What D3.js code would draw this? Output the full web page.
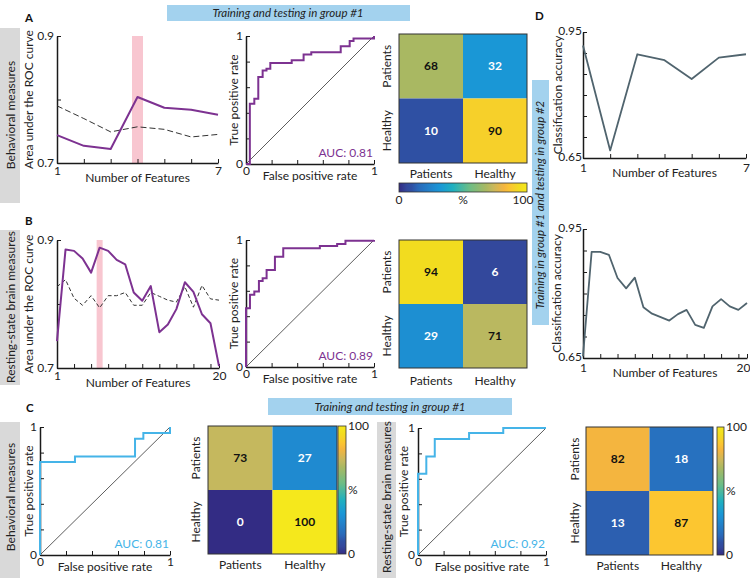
<!DOCTYPE html>
<html><head><meta charset="utf-8">
<script src="https://cdn.jsdelivr.net/npm/d3@7"></script>
<style>
body{margin:0;background:#fff;}
svg{display:block;}
</style></head><body>
<svg id="c" width="750" height="578"></svg>
<script>
// ---------------- DATA ----------------
const classes = ["Patients", "Healthy"];

const featuresBehav = [1, 2, 3, 4, 5, 6, 7];
const featuresBrain = [1, 2, 3, 4, 5, 6, 7, 8, 9, 10, 11, 12, 13, 14, 15, 16, 17, 18, 19, 20];

// Panel A: AUC vs number of features (behavioral), solid = real, dashed = chance/permuted
const aucBehav = [0.744, 0.727, 0.722, 0.804, 0.787, 0.784, 0.776];
const aucBehavNull = [0.790, 0.770, 0.749, 0.757, 0.753, 0.741, 0.745];
const bestBehav = 4;

// Panel B: AUC vs number of features (resting-state brain)
const aucBrain = [0.742, 0.885, 0.883, 0.871, 0.849, 0.888, 0.883, 0.869, 0.862, 0.818,
                  0.805, 0.828, 0.756, 0.768, 0.792, 0.834, 0.819, 0.784, 0.770, 0.703];
const aucBrainNull = [0.827, 0.838, 0.809, 0.798, 0.813, 0.794, 0.813, 0.813, 0.818, 0.798,
                      0.798, 0.818, 0.812, 0.806, 0.803, 0.827, 0.795, 0.829, 0.808, 0.806];
const bestBrain = 6;

// ROC curves (fpr, tpr) vertices, drawn as step-after
const rocBehavG1Fpr = [0, 0.03, 0.065, 0.096, 0.13, 0.16, 0.19, 0.357, 0.45, 0.51, 0.74, 0.81, 0.84, 1];
const rocBehavG1Tpr = [0, 0.47, 0.51, 0.68, 0.73, 0.745, 0.79, 0.81, 0.855, 0.873, 0.92, 0.96, 0.98, 1];
const rocBrainG1Fpr = [0, 0, 0.031, 0.065, 0.101, 0.13, 0.161, 0.226, 0.291, 0.577, 0.712, 0.777, 1];
const rocBrainG1Tpr = [0, 0.463, 0.568, 0.594, 0.678, 0.699, 0.764, 0.869, 0.935, 0.953, 0.969, 0.995, 1];
const rocBehavG2Fpr = [0, 0, 0.269, 0.731, 0.795, 1];
const rocBehavG2Tpr = [0, 0.726, 0.770, 0.909, 0.953, 1];
const rocBrainG2Fpr = [0, 0, 0.065, 0.131, 0.399, 0.666, 1];
const rocBrainG2Tpr = [0, 0.639, 0.776, 0.913, 0.961, 1, 1];

const aucLabels = ["AUC: 0.81", "AUC: 0.89", "AUC: 0.81", "AUC: 0.92"];

// Confusion matrices (%), rows = true class, cols = predicted class
const cmBehavG1 = [[68, 32], [10, 90]];
const cmBrainG1 = [[94, 6], [29, 71]];
const cmBehavG2 = [[73, 27], [0, 100]];
const cmBrainG2 = [[82, 18], [13, 87]];

// Panel D: classification accuracy, training group #1, testing group #2
const accBehav = [0.918, 0.668, 0.897, 0.883, 0.838, 0.889, 0.897];
const accBrain = [0.654, 0.897, 0.897, 0.890, 0.836, 0.812, 0.837, 0.768, 0.753, 0.745,
                  0.737, 0.752, 0.762, 0.727, 0.720, 0.770, 0.787, 0.770, 0.762, 0.778];

// parula-like colour map
const parulaStops = [0, 0.06, 0.10, 0.15, 0.27, 0.32, 0.42, 0.55, 0.68, 0.73, 0.82, 0.87, 0.90, 0.94, 1];
const parulaColors = ["#332c84", "#33489c", "#2f50a3", "#2a69b9", "#1f8ad0", "#1a97d6", "#1fb0c0",
                      "#6cbd86", "#a9b862", "#c5b85e", "#f4b53f", "#fcc630", "#f6d02a", "#f2dc1f", "#f5e81c"];

// ---------------- DRAWING ----------------
const FONT = "Lato, 'Open Sans', sans-serif";
const PURPLE = "#7d3291", BLUE = "#45b4e8", SLATE = "#50646e";
const TS = 12; // title font size
const svg = d3.select("#c");
const defs = svg.append("defs");
const parula = d3.scaleLinear().domain(parulaStops.map(s => s * 100)).range(parulaColors).interpolate(d3.interpolateRgb).clamp(true);

function txt(x, y, s, o = {}) {
  const t = svg.append("text").attr("x", x).attr("y", y).text(s)
    .attr("font-size", o.size || 12).attr("text-anchor", o.anchor || "middle")
    .attr("fill", o.fill || "#222").style("font-family", FONT);
  if (o.weight) t.attr("font-weight", o.weight);
  if (o.italic) t.attr("font-style", "italic");
  if (o.rot) t.attr("transform", `rotate(${o.rot},${x},${y})`);
  if (o.dy) t.attr("dy", o.dy);
  return t;
}
function axisStyle(g) {
  g.select(".domain").attr("stroke", "#1a1a1a").attr("stroke-width", 1.5);
  g.selectAll(".tick line").attr("stroke", "#1a1a1a").attr("stroke-width", 1);
  g.selectAll(".tick text").attr("font-size", 12).attr("fill", "#222").style("font-family", FONT);
}

// banners and side boxes
function banner(x, y, w, h) {
  svg.append("rect").attr("x", x).attr("y", y).attr("width", w).attr("height", h).attr("fill", "#a3d2ee");
}
banner(167, 5, 243, 16);
txt(288, 17, "Training and testing in group #1", {size: 11.5, italic: true});
banner(268, 398, 244, 17);
txt(390, 411, "Training and testing in group #1", {size: 11.5, italic: true});
banner(532, 80, 17, 245);
txt(544, 205, "Training in group #1 and testing in group #2", {size: 11.5, italic: true, rot: -90});

function greyBox(x, y, w, h, s, cx, cy) {
  svg.append("rect").attr("x", x).attr("y", y).attr("width", w).attr("height", h).attr("fill", "#d9d9d9");
  txt(cx, cy, s, {size: TS, rot: -90});
}
greyBox(0, 28, 20, 175, "Behavioral measures", 15, 115);
greyBox(0, 230, 20, 155, "Resting-state brain measures", 15, 307);
greyBox(0, 422, 20, 156, "Behavioral measures", 15, 497);
greyBox(377, 422, 19, 156, "Resting-state  brain measures", 391, 497);

txt(25, 22, "A", {size: 11.5, weight: "bold", anchor: "start", fill: "#111"});
txt(25, 225, "B", {size: 11.5, weight: "bold", anchor: "start", fill: "#111"});
txt(26, 412, "C", {size: 11.5, weight: "bold", anchor: "start", fill: "#111"});
txt(535, 20, "D", {size: 11.5, weight: "bold", anchor: "start", fill: "#111"});

// line charts
function linePanel(o) {
  const fs = o.features, first = fs[0], last = fs[fs.length - 1];
  const x = d3.scaleLinear().domain([first, last]).range([o.left, o.right]);
  const y = d3.scaleLinear().domain(o.yDomain).range([o.bottom, o.top]);
  if (o.bandAt != null)
    svg.append("rect").attr("x", x(o.bandAt) - o.bandW / 2).attr("y", o.top)
      .attr("width", o.bandW).attr("height", o.bottom - o.top).attr("fill", "#f8c6d0");
  const gx = svg.append("g").attr("transform", `translate(0,${o.bottom})`)
    .call(d3.axisBottom(x).tickValues(o.xTicks).tickSizeInner(-4).tickSizeOuter(0).tickPadding(o.xPad || 3)
      .tickFormat(d => (d === first || d === last) ? d : ""))
    .call(axisStyle);
  if (o.lastEnd) gx.selectAll(".tick text").filter(d => d === last).attr("text-anchor", "end").attr("dx", 3);
  const gy = svg.append("g").attr("transform", `translate(${o.left},0)`)
    .call(d3.axisLeft(y).tickValues(o.yTicks).tickSizeInner(-4).tickSizeOuter(0).tickPadding(o.yPad || 3)
      .tickFormat((d, i) => (i === 0 || i === o.yTicks.length - 1) ? d3.format(o.yFmt)(d) : ""))
    .call(axisStyle);
  if (o.yDy) gy.selectAll(".tick text").attr("dy", o.yDy);
  const line = d3.line().x((d, i) => x(fs[i])).y(d => y(d));
  if (o.nullVals)
    svg.append("path").datum(o.nullVals).attr("d", line).attr("fill", "none")
      .attr("stroke", "#333").attr("stroke-width", 1).attr("stroke-dasharray", o.dash);
  svg.append("path").datum(o.values).attr("d", line).attr("fill", "none")
    .attr("stroke", o.color).attr("stroke-width", o.width || 2).attr("stroke-linejoin", "round");
  txt((o.left + o.right) / 2, o.bottom + 19, "Number of Features", {size: TS});
  txt(o.ytX, (o.top + o.bottom) / 2, o.yTitle, {size: TS, rot: -90});
}

linePanel({features: featuresBehav, values: aucBehav, nullVals: aucBehavNull, dash: "6,3",
  left: 57, right: 218, top: 36, bottom: 163, yDomain: [0.7, 0.9], yTicks: [0.7, 0.8, 0.9], yFmt: ".1f",
  xTicks: featuresBehav, bandAt: bestBehav, bandW: 11, color: PURPLE, ytX: 33, yTitle: "Area under the ROC curve"});
linePanel({features: featuresBrain, values: aucBrain, nullVals: aucBrainNull, dash: "4,2.5",
  left: 57, right: 219, top: 240, bottom: 368, yDomain: [0.7, 0.9], yTicks: [0.7, 0.8, 0.9], yFmt: ".1f",
  xTicks: [1, 3, 5, 7, 9, 11, 13, 15, 17, 19, 20], bandAt: bestBrain, bandW: 6, color: PURPLE, ytX: 33, yTitle: "Area under the ROC curve"});
linePanel({features: featuresBehav, values: accBehav, left: 583, right: 746, top: 32, bottom: 158,
  yDomain: [0.65, 0.95], yTicks: [0.65, 0.70, 0.75, 0.80, 0.85, 0.90, 0.95], yFmt: ".2f", yPad: 1, yDy: "0.2em", xPad: 5,
  xTicks: featuresBehav, color: SLATE, width: 1.8, ytX: 562, yTitle: "Classification accuracy"});
linePanel({features: featuresBrain, values: accBrain, left: 583, right: 747, top: 229, bottom: 358,
  yDomain: [0.65, 0.95], yTicks: [0.65, 0.70, 0.75, 0.80, 0.85, 0.90, 0.95], yFmt: ".2f", yPad: 1, yDy: "0.2em", xPad: 5, lastEnd: true,
  xTicks: [1, 3, 5, 7, 9, 11, 13, 15, 17, 19, 20], color: SLATE, width: 1.8, ytX: 561, yTitle: "Classification accuracy"});

// ROC
function rocPanel(o) {
  const x = d3.scaleLinear().domain([0, 1]).range([o.left, o.right]);
  const y = d3.scaleLinear().domain([0, 1]).range([o.bottom, o.top]);
  const tv = [0, 0.2, 0.4, 0.6, 0.8, 1];
  svg.append("g").attr("transform", `translate(0,${o.bottom})`)
    .call(d3.axisBottom(x).tickValues(tv).tickSizeInner(-4).tickSizeOuter(0).tickPadding(2)
      .tickFormat(d => (d === 0 || d === 1) ? d : ""))
    .call(axisStyle);
  svg.append("g").attr("transform", `translate(${o.left},0)`)
    .call(d3.axisLeft(y).tickValues(tv).tickSizeInner(-4).tickSizeOuter(0).tickPadding(3)
      .tickFormat(d => (d === 0 || d === 1) ? d : ""))
    .call(axisStyle);
  svg.append("line").attr("x1", x(0)).attr("y1", y(0)).attr("x2", x(1)).attr("y2", y(1))
    .attr("stroke", "#333").attr("stroke-width", 0.8);
  const line = d3.line().curve(d3.curveStepAfter).x(d => x(d[0])).y(d => y(d[1]));
  svg.append("path").datum(o.fpr.map((f, i) => [f, o.tpr[i]])).attr("d", line).attr("fill", "none")
    .attr("stroke", o.color).attr("stroke-width", 2);
  txt(o.right - 1, o.bottom - 7, o.auc, {size: 12, anchor: "end", fill: o.color});
  txt((o.left + o.right) / 2, o.bottom + 16, "False positive rate", {size: TS});
  txt(o.ytX, (o.top + o.bottom) / 2, "True positive rate", {size: TS, rot: -90});
}
rocPanel({fpr: rocBehavG1Fpr, tpr: rocBehavG1Tpr, left: 246, right: 374, top: 36, bottom: 164, color: PURPLE, auc: aucLabels[0], ytX: 238});
rocPanel({fpr: rocBrainG1Fpr, tpr: rocBrainG1Tpr, left: 246, right: 374, top: 240, bottom: 367, color: PURPLE, auc: aucLabels[1], ytX: 238});
rocPanel({fpr: rocBehavG2Fpr, tpr: rocBehavG2Tpr, left: 40, right: 170, top: 427, bottom: 555, color: BLUE, auc: aucLabels[2], ytX: 33});
rocPanel({fpr: rocBrainG2Fpr, tpr: rocBrainG2Tpr, left: 418, right: 546, top: 428, bottom: 555, color: BLUE, auc: aucLabels[3], ytX: 408});

// confusion matrices
function cmPanel(o) {
  const xb = d3.scaleBand().domain(classes).range([o.left, o.right]);
  const yb = d3.scaleBand().domain(classes).range([o.top, o.bottom]);
  const cells = [];
  o.m.forEach((row, r) => row.forEach((v, c) => cells.push({r: classes[r], c: classes[c], v})));
  svg.append("g").selectAll("rect").data(cells).join("rect")
    .attr("x", d => xb(d.c)).attr("y", d => yb(d.r)).attr("width", xb.bandwidth()).attr("height", yb.bandwidth())
    .attr("fill", d => parula(d.v));
  svg.append("rect").attr("x", o.left).attr("y", o.top).attr("width", o.right - o.left).attr("height", o.bottom - o.top)
    .attr("fill", "none").attr("stroke", "#333").attr("stroke-width", 1);
  svg.append("g").selectAll("text").data(cells).join("text")
    .attr("x", d => xb(d.c) + xb.bandwidth() / 2).attr("y", d => yb(d.r) + yb.bandwidth() / 2).attr("dy", "0.35em")
    .attr("text-anchor", "middle").attr("font-size", 12).attr("font-weight", "bold").style("font-family", FONT)
    .attr("fill", d => d.v > 50 ? "#111" : "#fff").text(d => d.v);
  classes.forEach(c => {
    txt(xb(c) + xb.bandwidth() / 2, o.xlY, c, {size: TS});
    txt(o.ylX, yb(c) + yb.bandwidth() / 2, c, {size: TS, rot: -90});
  });
}
cmPanel({m: cmBehavG1, left: 399, right: 527, top: 34, bottom: 163, xlY: 178, ylX: 391});
cmPanel({m: cmBrainG1, left: 399, right: 527, top: 240, bottom: 368, xlY: 385, ylX: 391});
cmPanel({m: cmBehavG2, left: 208, right: 337, top: 426, bottom: 554, xlY: 569, ylX: 200});
cmPanel({m: cmBrainG2, left: 586, right: 713, top: 427, bottom: 555, xlY: 570, ylX: 579});

// colour bars
function colorbar(id, x, y, w, h, horizontal) {
  const g = defs.append("linearGradient").attr("id", id)
    .attr("x1", "0%").attr("y1", horizontal ? "0%" : "100%").attr("x2", horizontal ? "100%" : "0%").attr("y2", "0%");
  d3.range(0, 101, 2).forEach(v => g.append("stop").attr("offset", v + "%").attr("stop-color", parula(v)));
  svg.append("rect").attr("x", x).attr("y", y).attr("width", w).attr("height", h)
    .attr("fill", `url(#${id})`).attr("stroke", "#333").attr("stroke-width", 0.8);
  if (horizontal) {
    txt(x, y + h + 12, "0", {size: 12});
    txt(x + w / 2, y + h + 12, "%", {size: 12});
    txt(x + w - 4, y + h + 12, "100", {size: 12});
  } else {
    txt(x + w + 2, y + 4, "100", {size: 12, anchor: "start"});
    txt(x + w + 2, y + h / 2 + 4, "%", {size: 12, anchor: "start"});
    txt(x + w + 2, y + h + 4, "0", {size: 12, anchor: "start"});
  }
}
colorbar("cbA", 399, 183, 128, 9, true);
colorbar("cbC1", 338, 426, 8, 128, false);
colorbar("cbC2", 717, 427, 7, 128, false);
</script>
</body></html>
